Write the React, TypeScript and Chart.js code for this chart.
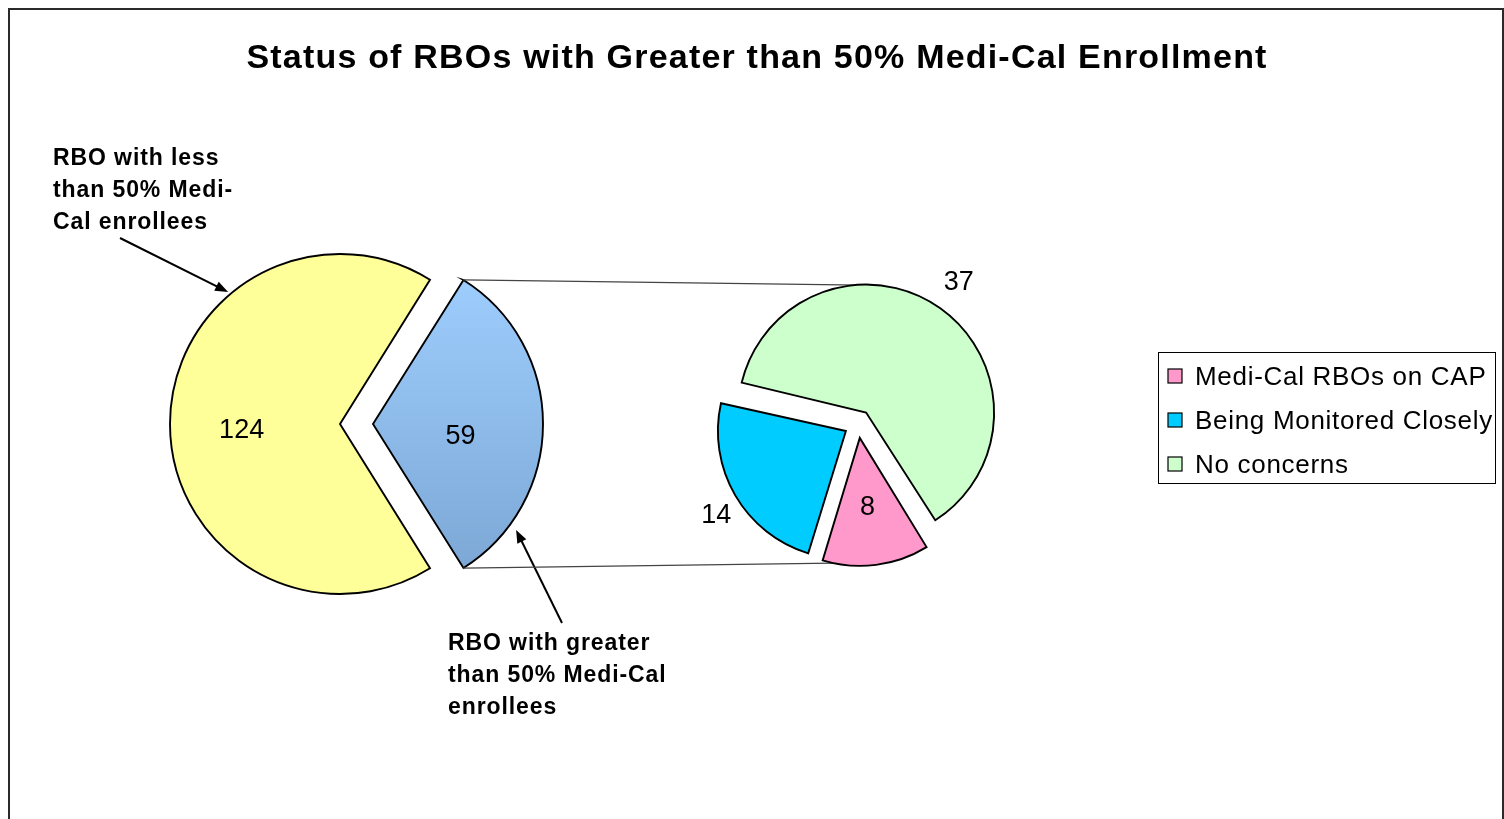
import React, { useEffect, useRef } from "react";
import { Chart, registerables } from "chart.js";

Chart.register(...registerables);

// ---------- data ----------
const titleText = "Status of RBOs with Greater than 50% Medi-Cal Enrollment";
const mainLabels = [
  "RBO with less than 50% Medi-Cal enrollees",
  "RBO with greater than 50% Medi-Cal enrollees",
];
const mainValues = [124, 59];
const subLabels = ["Medi-Cal RBOs on CAP", "Being Monitored Closely", "No concerns"];
const subValues = [8, 14, 37];
const noteLessLines = ["RBO with less", "than 50% Medi-", "Cal enrollees"];
const noteGreaterLines = ["RBO with greater", "than 50% Medi-Cal", "enrollees"];

// ---------- style ----------
const W = 1504;
const H = 819;
const FONT = "'Liberation Sans', Arial, Helvetica, sans-serif";
const mainColors = ["#FFFF99", "#8FBBEA"];
const blueGrad = ["#9DCDFD", "#7DA8D6"];
const subColors = ["#FF99CC", "#00CCFF", "#CCFFCC"];
const mainOffsets = [0, 132];
const subOffsets = [56, 56, 56];
const MAIN = { cx: 340, cy: 424, r: 170 };
const SUB = { cx: 858, cy: 424, r: 128, rotation: 148.3 };
const mainLabelPos = [
  { f: 0.58, da: -4 },
  { f: 0.52, da: 8 },
];
const subLabelPos = [
  { f: 0.55, da: 1 },
  { f: 1.21, da: -3 },
  { f: 1.25, da: 0 },
];

function padFor(p: { cx: number; cy: number; r: number }) {
  const h = p.r + 40;
  return { left: p.cx - h, right: W - (p.cx + h), top: p.cy - h, bottom: H - (p.cy + h) };
}

function drawText(
  ctx: CanvasRenderingContext2D,
  s: string,
  x: number,
  y: number,
  font: string,
  spacing: number,
  align: CanvasTextAlign,
  baseline: CanvasTextBaseline = "alphabetic"
) {
  ctx.save();
  ctx.font = font;
  (ctx as any).letterSpacing = spacing + "px";
  ctx.textAlign = align;
  ctx.textBaseline = baseline;
  ctx.fillStyle = "#000";
  ctx.fillText(s, x, y);
  ctx.restore();
}

function arrow(ctx: CanvasRenderingContext2D, x1: number, y1: number, x2: number, y2: number) {
  const a = Math.atan2(y2 - y1, x2 - x1);
  const len = 13;
  const hw = 5;
  ctx.save();
  ctx.strokeStyle = "#000";
  ctx.fillStyle = "#000";
  ctx.lineWidth = 2;
  ctx.beginPath();
  ctx.moveTo(x1, y1);
  ctx.lineTo(x2 - Math.cos(a) * len * 0.8, y2 - Math.sin(a) * len * 0.8);
  ctx.stroke();
  ctx.beginPath();
  ctx.moveTo(x2, y2);
  ctx.lineTo(x2 - Math.cos(a) * len - Math.sin(a) * hw, y2 - Math.sin(a) * len + Math.cos(a) * hw);
  ctx.lineTo(x2 - Math.cos(a) * len + Math.sin(a) * hw, y2 - Math.sin(a) * len - Math.cos(a) * hw);
  ctx.closePath();
  ctx.fill();
  ctx.restore();
}

// geometry of an arc element (exploded centre)
function arcGeom(arc: any) {
  const off = (arc.options.offset || 0) / 4;
  const mid = (arc.startAngle + arc.endAngle) / 2;
  return { ox: arc.x + Math.cos(mid) * off, oy: arc.y + Math.sin(mid) * off, mid };
}

// keep exploded slices at the same visible radius as the others
const radiusFix = {
  id: "radiusFix",
  afterDatasetsUpdate(chart: any) {
    const meta = chart.getDatasetMeta(0);
    meta.data.forEach((arc: any) => {
      const off = (arc.options.offset || 0) / 4;
      const fix = 1 - Math.sin(Math.min(Math.PI, arc.circumference || 0));
      arc.outerRadius = arc.outerRadius - off * fix;
    });
  },
};

function valueLabels(chart: any, values: number[], pos: { f: number; da: number }[], R: number) {
  const ctx = chart.ctx as CanvasRenderingContext2D;
  const meta = chart.getDatasetMeta(0);
  meta.data.forEach((arc: any, i: number) => {
    const g = arcGeom(arc);
    const ang = g.mid + (pos[i].da * Math.PI) / 180;
    const x = g.ox + Math.cos(ang) * R * pos[i].f;
    const y = g.oy + Math.sin(ang) * R * pos[i].f;
    drawText(ctx, String(values[i]), x, y, `27px ${FONT}`, 0, "center", "middle");
  });
}

export default function App() {
  const refA = useRef<HTMLCanvasElement>(null);
  const refB = useRef<HTMLCanvasElement>(null);

  useEffect(() => {
    if (!refA.current || !refB.current) return;
    const mainTotal = mainValues.reduce((a, b) => a + b, 0);
    const mainRotation = 90 + ((mainValues[1] / mainTotal) * 360) / 2;

    const mainDecor = {
      id: "mainDecor",
      afterDatasetsDraw(chart: any) {
        const ctx = chart.ctx as CanvasRenderingContext2D;
        valueLabels(chart, mainValues, mainLabelPos, MAIN.r);
        // title
        drawText(ctx, titleText, 757, 68, `bold 34px ${FONT}`, 1.2, "center");
        // annotations
        noteLessLines.forEach((s, i) =>
          drawText(ctx, s, 53, 165 + i * 32, `bold 23px ${FONT}`, 0.9, "left")
        );
        noteGreaterLines.forEach((s, i) =>
          drawText(ctx, s, 448, 650 + i * 32, `bold 23px ${FONT}`, 0.9, "left")
        );
        const meta = chart.getDatasetMeta(0);
        const y = arcGeom(meta.data[0]);
        const b = arcGeom(meta.data[1]);
        const a1 = (229.7 * Math.PI) / 180;
        arrow(ctx, 120, 238, y.ox + Math.cos(a1) * (MAIN.r + 3), y.oy + Math.sin(a1) * (MAIN.r + 3));
        const a2 = (36.5 * Math.PI) / 180;
        arrow(ctx, 562, 623, b.ox + Math.cos(a2) * (MAIN.r + 8), b.oy + Math.sin(a2) * (MAIN.r + 8));
      },
    };

    const chartA = new Chart(refA.current, {
      type: "pie",
      data: {
        labels: mainLabels,
        datasets: [
          {
            data: mainValues,
            backgroundColor: (c: any) => {
              if (c.dataIndex !== 1) return mainColors[0];
              const area = c.chart.chartArea;
              if (!area) return mainColors[1];
              const cy = (area.top + area.bottom) / 2;
              const g = c.chart.ctx.createLinearGradient(0, cy - MAIN.r * 0.85, 0, cy + MAIN.r * 0.85);
              g.addColorStop(0, blueGrad[0]);
              g.addColorStop(1, blueGrad[1]);
              return g;
            },
            borderColor: "#000",
            borderWidth: 1.9,
            borderJoinStyle: "miter",
            offset: mainOffsets,
            hoverOffset: 0,
            radius: MAIN.r,
            rotation: mainRotation,
          } as any,
        ],
      },
      options: {
        responsive: false,
        animation: false,
        events: [],
        radius: MAIN.r,
        rotation: mainRotation,
        layout: { padding: padFor(MAIN) },
        plugins: { legend: { display: false }, tooltip: { enabled: false }, title: { display: false } },
      } as any,
      plugins: [radiusFix, mainDecor],
    });

    const subDecor = {
      id: "subDecor",
      beforeDatasetsDraw(chart: any) {
        const ctx = chart.ctx as CanvasRenderingContext2D;
        const blue = chartA.getDatasetMeta(0).data[1] as any;
        const bg = arcGeom(blue);
        const R = MAIN.r;
        const p1 = [bg.ox + R * Math.cos(blue.startAngle), bg.oy + R * Math.sin(blue.startAngle)];
        const p2 = [bg.ox + R * Math.cos(blue.endAngle), bg.oy + R * Math.sin(blue.endAngle)];
        const meta = chart.getDatasetMeta(0);
        const green = arcGeom(meta.data[2]);
        const pink = arcGeom(meta.data[0]);
        const t = (-84 * Math.PI) / 180;
        const q1 = [green.ox + SUB.r * Math.cos(t), green.oy + SUB.r * Math.sin(t)];
        const u = (102 * Math.PI) / 180;
        const q2 = [pink.ox + SUB.r * Math.cos(u), pink.oy + SUB.r * Math.sin(u)];
        ctx.save();
        ctx.strokeStyle = "#444";
        ctx.lineWidth = 1.2;
        ctx.beginPath();
        ctx.moveTo(p1[0], p1[1]);
        ctx.lineTo(q1[0], q1[1]);
        ctx.moveTo(p2[0], p2[1]);
        ctx.lineTo(q2[0], q2[1]);
        ctx.stroke();
        ctx.restore();
      },
      afterDatasetsDraw(chart: any) {
        const ctx = chart.ctx as CanvasRenderingContext2D;
        valueLabels(chart, subValues, subLabelPos, SUB.r);
        // legend box
        const box = { left: 1158, top: 352, right: 1495, bottom: 483 };
        ctx.save();
        ctx.strokeStyle = "#000";
        ctx.lineWidth = 1;
        ctx.strokeRect(box.left + 0.5, box.top + 0.5, box.right - box.left, box.bottom - box.top);
        const rowH = 44;
        subLabels.forEach((lab, i) => {
          const cy = box.top + 24 + i * rowH;
          ctx.fillStyle = subColors[i];
          ctx.fillRect(box.left + 10, cy - 7, 14, 14);
          ctx.strokeStyle = "#000";
          ctx.lineWidth = 1.2;
          ctx.strokeRect(box.left + 10, cy - 7, 14, 14);
          drawText(ctx, lab, box.left + 37, cy + 9, `26px ${FONT}`, 0.7, "left");
        });
        ctx.restore();
      },
    };

    const chartB = new Chart(refB.current, {
      type: "pie",
      data: {
        labels: subLabels,
        datasets: [
          {
            data: subValues,
            backgroundColor: subColors,
            borderColor: "#000",
            borderWidth: 1.9,
            borderJoinStyle: "miter",
            offset: subOffsets,
            hoverOffset: 0,
            radius: SUB.r,
            rotation: SUB.rotation,
          } as any,
        ],
      },
      options: {
        responsive: false,
        animation: false,
        events: [],
        radius: SUB.r,
        rotation: SUB.rotation,
        layout: { padding: padFor(SUB) },
        plugins: { legend: { display: false }, tooltip: { enabled: false }, title: { display: false } },
      } as any,
      plugins: [radiusFix, subDecor],
    });

    return () => {
      chartB.destroy();
      chartA.destroy();
    };
  }, []);

  const canvasStyle: React.CSSProperties = {
    position: "fixed",
    left: 0,
    top: 0,
    width: W,
    height: H,
    display: "block",
  };

  return (
    <>
      <div
        style={{
          position: "fixed",
          left: 8,
          top: 8,
          width: 1496,
          height: 900,
          boxSizing: "border-box",
          border: "2px solid #2a2a2a",
          background: "#fff",
        }}
      />
      <canvas ref={refA} width={W} height={H} style={canvasStyle} />
      <canvas ref={refB} width={W} height={H} style={{ ...canvasStyle, pointerEvents: "none" }} />
    </>
  );
}
